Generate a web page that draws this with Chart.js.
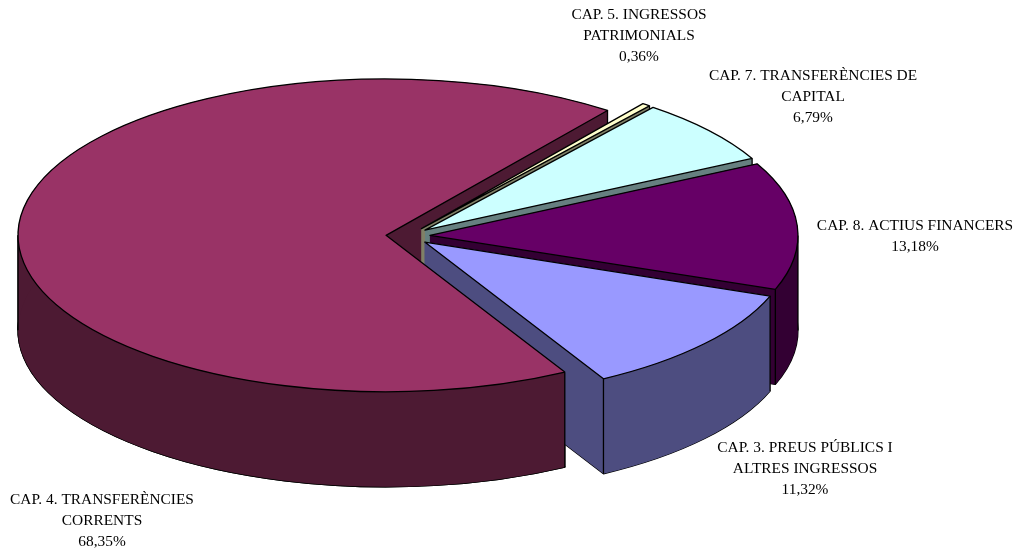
<!DOCTYPE html>
<html>
<head>
<meta charset="utf-8">
<script src="https://cdn.jsdelivr.net/npm/chart.js@4"></script>
<style>
body { margin: 0; background: #fff; }
canvas { display: block; }
</style>
</head>
<body>
<canvas id="pieChart" width="1018" height="550"></canvas>
<script>
const categories = ['CAP. 5. INGRESSOS PATRIMONIALS', 'CAP. 7. TRANSFERÈNCIES DE CAPITAL', 'CAP. 8. ACTIUS FINANCERS', 'CAP. 3. PREUS PÚBLICS I ALTRES INGRESSOS', 'CAP. 4. TRANSFERÈNCIES CORRENTS'];
const percents = [0.36, 6.79, 13.18, 11.32, 68.35];
const percentLabels = ['0,36%', '6,79%', '13,18%', '11,32%', '68,35%'];
const topColors = ['#FFFFCC', '#CCFFFF', '#660066', '#9999FF', '#993366'];
const wallColors = ['#808066', '#668080', '#330033', '#4D4D80', '#4D1A33'];

// label lines and where they sit on the page
const labelLines = [
    ['CAP. 5. INGRESSOS', 'PATRIMONIALS', percentLabels[0]],
    ['CAP. 7. TRANSFERÈNCIES DE', 'CAPITAL', percentLabels[1]],
    ['CAP. 8. ACTIUS FINANCERS', percentLabels[2]],
    ['CAP. 3. PREUS PÚBLICS I', 'ALTRES INGRESSOS', percentLabels[3]],
    ['CAP. 4. TRANSFERÈNCIES', 'CORRENTS', percentLabels[4]]
];
const labelAnchors = [[639, 15], [813, 76], [915, 226], [805, 448], [102, 500]];

const SQUASH = 0.425;
const DEPTH = 95;
const EXPLODE = 22;
const LINE_HEIGHT = 20.8;

// tip of a slice after it is pulled out of the pie
function tipOf(arc) {
    const mid = (arc.startAngle + arc.endAngle) / 2;
    return { x: arc.x + Math.cos(mid) * EXPLODE, y: arc.y + Math.sin(mid) * EXPLODE };
}

function facePath(ctx, arc, dy) {
    const t = tipOf(arc);
    ctx.beginPath();
    ctx.moveTo(t.x, t.y + dy);
    ctx.arc(t.x, t.y + dy, arc.outerRadius, arc.startAngle, arc.endAngle);
    ctx.closePath();
}

// line width stays even though the context is squashed
function strokeFlat(ctx, chart) {
    ctx.save();
    const dpr = chart.currentDevicePixelRatio;
    ctx.setTransform(dpr, 0, 0, dpr, 0, 0);
    ctx.strokeStyle = '#000';
    ctx.lineWidth = 1.3;
    ctx.lineJoin = 'round';
    ctx.stroke();
    ctx.restore();
}

function paintWalls(ctx, chart, arc, i) {
    const t = tipOf(arc);
    const r = arc.outerRadius;
    const d = DEPTH / SQUASH;
    const s = arc.startAngle, e = arc.endAngle;
    ctx.fillStyle = wallColors[i];

    facePath(ctx, arc, d);
    ctx.fill();
    strokeFlat(ctx, chart);

    // flat side walls at both cuts
    [s, e].forEach(a => {
        ctx.beginPath();
        ctx.moveTo(t.x, t.y);
        ctx.lineTo(t.x + Math.cos(a) * r, t.y + Math.sin(a) * r);
        ctx.lineTo(t.x + Math.cos(a) * r, t.y + Math.sin(a) * r + d);
        ctx.lineTo(t.x, t.y + d);
        ctx.closePath();
        ctx.fill();
    });

    // curved wall, split where the rim turns back on itself
    const cuts = [s];
    for (let k = Math.ceil(s / Math.PI); k * Math.PI < e; k++) {
        if (k * Math.PI > s) cuts.push(k * Math.PI);
    }
    cuts.push(e);
    for (let k = 0; k < cuts.length - 1; k++) {
        ctx.beginPath();
        ctx.arc(t.x, t.y, r, cuts[k], cuts[k + 1]);
        ctx.arc(t.x, t.y + d, r, cuts[k + 1], cuts[k], true);
        ctx.closePath();
        ctx.fill();
    }

    // vertical edges, only those that face the viewer
    cuts.forEach((a, k) => {
        const isStart = k === 0, isEnd = k === cuts.length - 1;
        const seen = (!isStart && !isEnd) || Math.sin(a) > 0 || (isStart ? Math.cos(a) < 0 : Math.cos(a) > 0);
        if (!seen) return;
        ctx.beginPath();
        ctx.moveTo(t.x + Math.cos(a) * r, t.y + Math.sin(a) * r);
        ctx.lineTo(t.x + Math.cos(a) * r, t.y + Math.sin(a) * r + d);
        strokeFlat(ctx, chart);
    });
}

function paintTop(ctx, chart, arc) {
    const t = tipOf(arc);
    ctx.save();
    ctx.translate(t.x - arc.x, t.y - arc.y);
    arc.draw(ctx);
    ctx.restore();
    facePath(ctx, arc, 0);
    strokeFlat(ctx, chart);
}

const pie3d = {
    id: 'pie3d',
    beforeDatasetsDraw(chart) {
        const ctx = chart.ctx;
        const arcs = chart.getDatasetMeta(0).data;
        const last = arcs.length - 1;
        const big = arcs[last];
        ctx.save();
        ctx.translate(big.x, big.y);
        ctx.scale(1, SQUASH);
        ctx.translate(-big.x, -big.y);

        // big slice goes down first, the small ones stand in front of its back wall
        paintWalls(ctx, chart, big, last);
        for (let i = 0; i < last; i++) {
            paintWalls(ctx, chart, arcs[i], i);
            paintTop(ctx, chart, arcs[i]);
        }

        // then its front wall again, over the wall of the neighbour
        const t = tipOf(big);
        const a = big.startAngle, n = a + Math.PI / 2, len = 3000;
        ctx.save();
        ctx.beginPath();
        ctx.moveTo(t.x - Math.cos(a) * len, t.y - Math.sin(a) * len);
        ctx.lineTo(t.x + Math.cos(a) * len, t.y + Math.sin(a) * len);
        ctx.lineTo(t.x + Math.cos(a) * len + Math.cos(n) * len, t.y + Math.sin(a) * len + Math.sin(n) * len);
        ctx.lineTo(t.x - Math.cos(a) * len + Math.cos(n) * len, t.y - Math.sin(a) * len + Math.sin(n) * len);
        ctx.closePath();
        ctx.clip();
        paintWalls(ctx, chart, big, last);
        ctx.restore();
        paintTop(ctx, chart, big);

        ctx.restore();
        return false;
    },
    afterDraw(chart) {
        const ctx = chart.ctx;
        ctx.save();
        ctx.fillStyle = '#000';
        ctx.font = '15.4px "Liberation Serif"';
        ctx.textAlign = 'center';
        ctx.textBaseline = 'middle';
        labelLines.forEach((lines, i) => {
            lines.forEach((t, j) => ctx.fillText(t, labelAnchors[i][0], labelAnchors[i][1] + j * LINE_HEIGHT));
        });
        ctx.restore();
    }
};

new Chart(document.getElementById('pieChart'), {
    type: 'pie',
    data: {
        labels: categories,
        datasets: [{
            data: percents,
            backgroundColor: topColors,
            borderWidth: 0
        }]
    },
    options: {
        responsive: false,
        animation: false,
        rotation: 37,
        radius: 368,
        layout: { padding: { right: 202, bottom: 78 } },
        plugins: { legend: { display: false }, tooltip: { enabled: false } }
    },
    plugins: [pie3d]
});
</script>
</body>
</html>
